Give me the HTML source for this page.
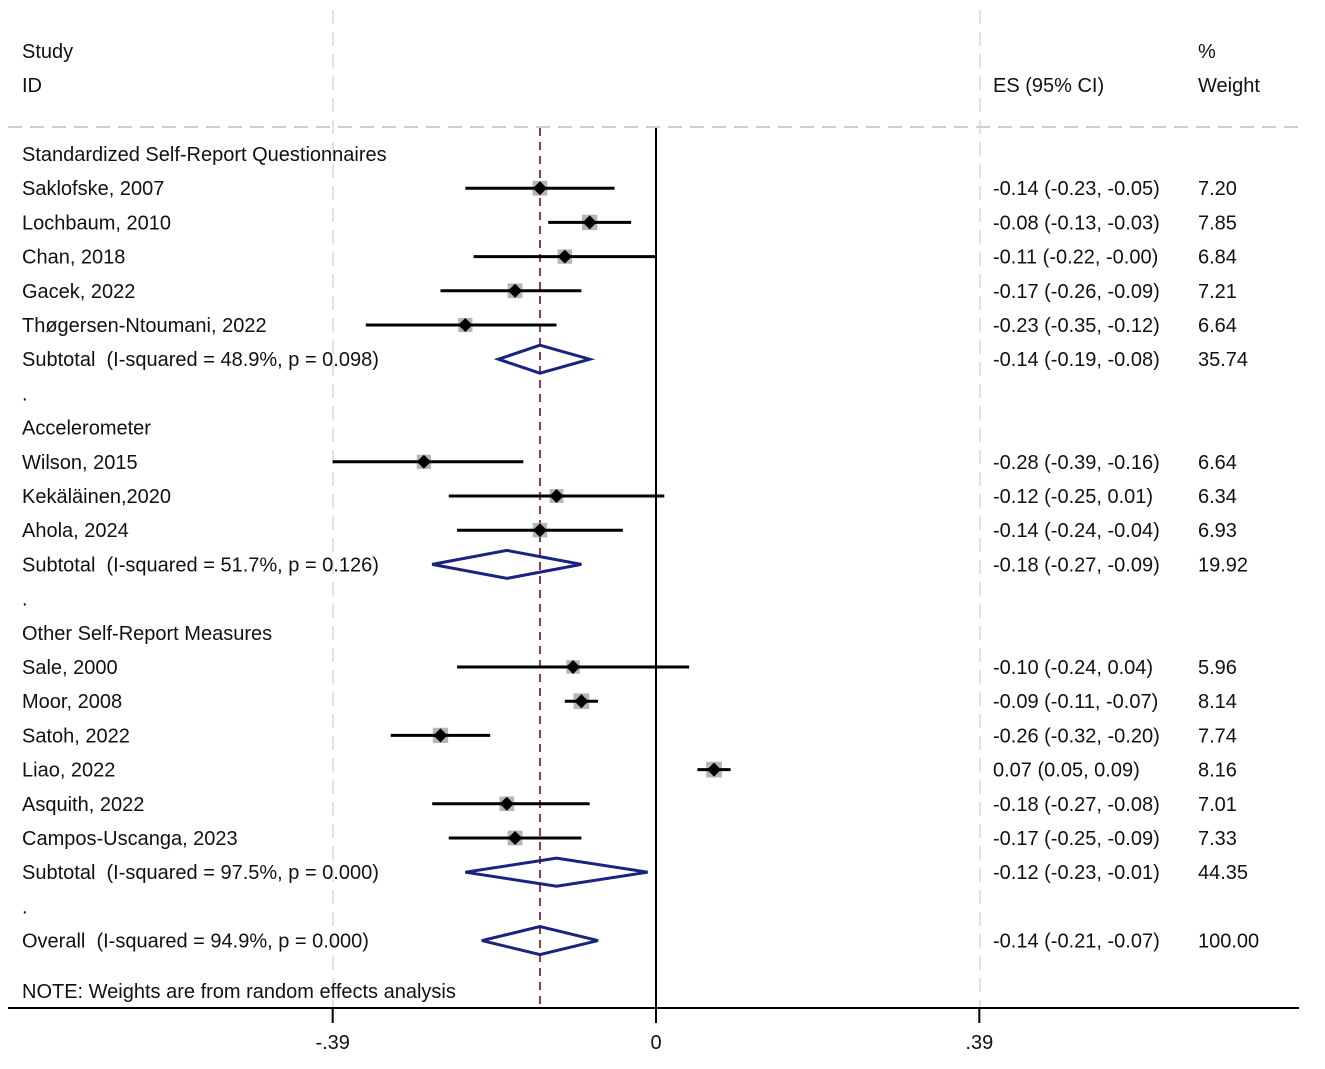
<!DOCTYPE html>
<html><head><meta charset="utf-8"><style>
body{margin:0;background:#fff;}
svg{display:block;font-family:"Liberation Sans",Arial,sans-serif;}
text{font-size:20px;fill:#111;white-space:pre;}
</style></head><body>
<svg id="c" width="1325" height="1069" xml:space="preserve"></svg>
<script>
const labels=["Saklofske, 2007","Lochbaum, 2010","Chan, 2018","Gacek, 2022","Thøgersen-Ntoumani, 2022","Wilson, 2015","Kekäläinen,2020","Ahola, 2024","Sale, 2000","Moor, 2008","Satoh, 2022","Liao, 2022","Asquith, 2022","Campos-Uscanga, 2023"];
const es=[-0.14,-0.08,-0.11,-0.17,-0.23,-0.28,-0.12,-0.14,-0.10,-0.09,-0.26,0.07,-0.18,-0.17];
const lo=[-0.23,-0.13,-0.22,-0.26,-0.35,-0.39,-0.25,-0.24,-0.24,-0.11,-0.32,0.05,-0.27,-0.25];
const hi=[-0.05,-0.03,-0.00,-0.09,-0.12,-0.16,0.01,-0.04,0.04,-0.07,-0.20,0.09,-0.08,-0.09];
const wts=[7.20,7.85,6.84,7.21,6.64,6.64,6.34,6.93,5.96,8.14,7.74,8.16,7.01,7.33];
const rows=[1,2,3,4,5,9,10,11,15,16,17,18,19,20];
const subLabels=["Subtotal\u00a0\u00a0(I-squared = 48.9%, p = 0.098)","Subtotal\u00a0\u00a0(I-squared = 51.7%, p = 0.126)","Subtotal\u00a0\u00a0(I-squared = 97.5%, p = 0.000)","Overall\u00a0\u00a0(I-squared = 94.9%, p = 0.000)"];
const subEs=[-0.14,-0.18,-0.12,-0.14];
const subLo=[-0.19,-0.27,-0.23,-0.21];
const subHi=[-0.08,-0.09,-0.01,-0.07];
const subW=["35.74","19.92","44.35","100.00"];
const subRows=[6,12,21,23];
const groups=["Standardized Self-Report Questionnaires","Accelerometer","Other Self-Report Measures"];
const groupRows=[0,8,14];
const dotRows=[7,13,22];
const ticks=[-0.39,0,0.39];
const tickLabels=["-.39","0",".39"];
const overall=-0.14;

const svg=document.getElementById('c');const NS="http://www.w3.org/2000/svg";
const X=v=>656+v*829;
const Y=r=>154+r*34.2;
function el(t,a,p){const e=document.createElementNS(NS,t);for(const k in a)e.setAttribute(k,a[k]);(p||svg).appendChild(e);return e;}
const f=v=>{let s=Math.abs(v).toFixed(2);return (v<0||Object.is(v,-0)?"-":"")+s;};

let e;
e=el('line',{x1:333,y1:10,x2:333,y2:1008,stroke:'#e2e2e2','stroke-width':2,'stroke-dasharray':'14,8'});

e=el('line',{x1:980,y1:10,x2:980,y2:1008,stroke:'#e2e2e2','stroke-width':2,'stroke-dasharray':'14,8'});

e=el('line',{x1:8,y1:127,x2:1302,y2:127,stroke:'#cfcfcf','stroke-width':2,'stroke-dasharray':'14,8'});

e=el('line',{x1:X(0),y1:128,x2:X(0),y2:1008,stroke:'#000','stroke-width':2});

e=el('line',{x1:X(overall),y1:128,x2:X(overall),y2:1008,stroke:'#8b3a4a','stroke-width':2,'stroke-dasharray':'8,6'});


[["Study",22,58],["ID",22,92],["ES (95% CI)",993,92],["%",1198,58],["Weight",1198,92]].forEach(h=>{
 e=el('text',{x:h[1],y:h[2]});e.textContent=h[0];
 });

groups.forEach((g,i)=>{e=el('text',{x:22,y:Y(groupRows[i])+7});e.textContent=g;
 });
dotRows.forEach(r=>{e=el('text',{x:22,y:Y(r)+7});e.textContent=".";
 });

labels.forEach((l,i)=>{const y=Y(rows[i]);
 e=el('text',{x:22,y:y+7});e.textContent=l;
 
 const s=5.5*Math.sqrt(wts[i]);
 e=el('rect',{x:X(es[i])-s/2,y:y-s/2,width:s,height:s,fill:'#b5b5b5'});
 
 e=el('line',{x1:X(lo[i]),y1:y,x2:X(hi[i]),y2:y,stroke:'#000','stroke-width':3});
 
 const cx=X(es[i]);
 e=el('polygon',{points:`${cx-7},${y} ${cx},${y-7} ${cx+7},${y} ${cx},${y+7}`,fill:'#000'});
 
 e=el('text',{x:993,y:y+7});e.textContent=`${f(es[i])} (${f(lo[i])}, ${f(hi[i])})`;
 
 e=el('text',{x:1198,y:y+7});e.textContent=wts[i].toFixed(2);
 
});
subLabels.forEach((l,i)=>{const y=Y(subRows[i]);
 e=el('text',{x:22,y:y+7});e.textContent=l;
 
 e=el('polygon',{points:`${X(subLo[i])},${y} ${X(subEs[i])},${y-14} ${X(subHi[i])},${y} ${X(subEs[i])},${y+14}`,fill:'none',stroke:'#1a237e','stroke-width':3});
 
 e=el('text',{x:993,y:y+7});e.textContent=`${f(subEs[i])} (${f(subLo[i])}, ${f(subHi[i])})`;
 
 e=el('text',{x:1198,y:y+7});e.textContent=subW[i];
 
});
e=el('text',{x:22,y:998});e.textContent="NOTE: Weights are from random effects analysis";

e=el('line',{x1:8,y1:1008,x2:1299,y2:1008,stroke:'#000','stroke-width':2});

ticks.forEach((t,i)=>{
 e=el('line',{x1:X(t),y1:1008,x2:X(t),y2:1023,stroke:'#000','stroke-width':2});
 
 e=el('text',{x:X(t),y:1049,'text-anchor':'middle'});e.textContent=tickLabels[i];
 
});
</script>
</body></html>
